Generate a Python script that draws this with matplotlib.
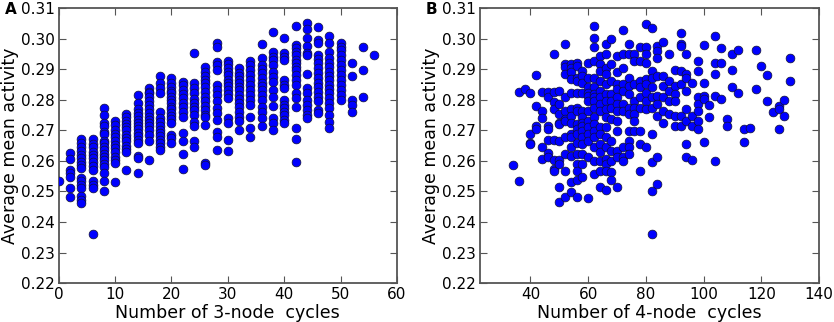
import matplotlib
matplotlib.use('Agg')
import matplotlib.pyplot as plt
import numpy as np

# Panel A: number of 3-node cycles -> average mean activity values in that column
cycles3 = {
    0: [0.2535],
    2: [0.2625, 0.2606, 0.2571, 0.2560, 0.2549, 0.2511, 0.2482],
    4: [0.2671, 0.2658, 0.2645, 0.2634, 0.2620, 0.2609, 0.2598, 0.2587, 0.2576,
        0.2544, 0.2533, 0.2522, 0.2511, 0.2484, 0.2473, 0.2462],
    6: [0.2671, 0.2656, 0.2645, 0.2631, 0.2620, 0.2609, 0.2598, 0.2584, 0.2571,
        0.2533, 0.2522, 0.2511, 0.2362],
    8: [0.2773, 0.2751, 0.2724, 0.2715, 0.2696, 0.2689, 0.2667, 0.2660, 0.2647,
        0.2636, 0.2623, 0.2612, 0.2604, 0.2591, 0.2580, 0.2562, 0.2533, 0.2502],
    10: [0.2732, 0.2718, 0.2702, 0.2689, 0.2678, 0.2664, 0.2653, 0.2642, 0.2628,
         0.2614, 0.2604, 0.2593, 0.2531],
    12: [0.2753, 0.2743, 0.2732, 0.2721, 0.2711, 0.2700, 0.2686, 0.2675, 0.2664,
         0.2650, 0.2639, 0.2628, 0.2571],
    14: [0.2816, 0.2789, 0.2770, 0.2758, 0.2748, 0.2735, 0.2724, 0.2713, 0.2704,
         0.2693, 0.2682, 0.2669, 0.2658, 0.2615, 0.2609, 0.2560],
    16: [0.2838, 0.2827, 0.2822, 0.2811, 0.2795, 0.2784, 0.2770, 0.2757, 0.2745,
         0.2735, 0.2724, 0.2715, 0.2702, 0.2686, 0.2664, 0.2604],
    18: [0.2878, 0.2855, 0.2838, 0.2822, 0.2762, 0.2740, 0.2729, 0.2713, 0.2702,
         0.2693, 0.2682, 0.2669, 0.2658, 0.2647, 0.2636],
    20: [0.2871, 0.2855, 0.2842, 0.2830, 0.2822, 0.2811, 0.2800, 0.2789, 0.2778,
         0.2770, 0.2758, 0.2748, 0.2737, 0.2726, 0.2686, 0.2675, 0.2660],
    22: [0.2860, 0.2849, 0.2833, 0.2819, 0.2805, 0.2791, 0.2778, 0.2762, 0.2745,
         0.2691, 0.2664, 0.2623, 0.2573],
    24: [0.2953, 0.2855, 0.2838, 0.2822, 0.2802, 0.2789, 0.2778, 0.2767, 0.2751,
         0.2729, 0.2715, 0.2664, 0.2647],
    26: [0.2909, 0.2893, 0.2879, 0.2865, 0.2855, 0.2841, 0.2827, 0.2811, 0.2795,
         0.2780, 0.2767, 0.2751, 0.2743, 0.2718, 0.2593, 0.2587],
    28: [0.2985, 0.2975, 0.2925, 0.2914, 0.2898, 0.2849, 0.2833, 0.2816, 0.2795,
         0.2773, 0.2756, 0.2735, 0.2696, 0.2680, 0.2636],
    30: [0.2929, 0.2918, 0.2904, 0.2893, 0.2882, 0.2865, 0.2855, 0.2844, 0.2831,
         0.2819, 0.2805, 0.2740, 0.2724, 0.2669, 0.2634],
    32: [0.2906, 0.2889, 0.2879, 0.2865, 0.2855, 0.2841, 0.2831, 0.2816, 0.2802,
         0.2789, 0.2778, 0.2762, 0.2745, 0.2732, 0.2700],
    34: [0.2928, 0.2915, 0.2898, 0.2882, 0.2865, 0.2849, 0.2833, 0.2816, 0.2800,
         0.2784, 0.2743, 0.2707, 0.2680],
    36: [0.2982, 0.2936, 0.2915, 0.2900, 0.2887, 0.2871, 0.2857, 0.2844, 0.2831,
         0.2816, 0.2800, 0.2778, 0.2762, 0.2740, 0.2713],
    38: [0.3021, 0.2958, 0.2942, 0.2931, 0.2915, 0.2893, 0.2876, 0.2860, 0.2833,
         0.2811, 0.2780, 0.2740, 0.2724, 0.2702],
    40: [0.3004, 0.2953, 0.2942, 0.2931, 0.2865, 0.2849, 0.2838, 0.2800, 0.2784,
         0.2773, 0.2762, 0.2751, 0.2735, 0.2724],
    42: [0.3042, 0.2980, 0.2969, 0.2958, 0.2947, 0.2931, 0.2920, 0.2909, 0.2898,
         0.2882, 0.2865, 0.2849, 0.2822, 0.2805, 0.2778, 0.2707, 0.2671, 0.2598],
    44: [0.3051, 0.3031, 0.3002, 0.2977, 0.2953, 0.2947, 0.2885, 0.2838, 0.2822,
         0.2800, 0.2784, 0.2767, 0.2751, 0.2740],
    46: [0.3040, 0.2996, 0.2985, 0.2947, 0.2933, 0.2920, 0.2904, 0.2887, 0.2871,
         0.2855, 0.2841, 0.2827, 0.2811, 0.2795, 0.2767, 0.2756],
    48: [0.3009, 0.2985, 0.2958, 0.2936, 0.2920, 0.2909, 0.2893, 0.2879, 0.2865,
         0.2849, 0.2835, 0.2822, 0.2805, 0.2789, 0.2773, 0.2751, 0.2729, 0.2707],
    50: [0.2985, 0.2975, 0.2964, 0.2947, 0.2931, 0.2915, 0.2898, 0.2882, 0.2865,
         0.2849, 0.2833, 0.2816, 0.2800],
    52: [0.2922, 0.2879, 0.2800, 0.2784, 0.2762],
    54: [0.2972, 0.2898, 0.2811],
    56: [0.2947],
}

# Panel B: number of 4-node cycles -> average mean activity values in that column
cycles4 = {
    34: [0.2586],
    36: [0.2827, 0.2534],
    38: [0.2836],
    40: [0.2823, 0.2689, 0.2658, 0.2654],
    42: [0.2882, 0.2781, 0.2713, 0.2705],
    44: [0.2827, 0.2765, 0.2741, 0.2646, 0.2607],
    46: [0.2827, 0.2808, 0.2713, 0.2705, 0.2669, 0.2625, 0.2612],
    48: [0.2950, 0.2827, 0.2792, 0.2770, 0.2669, 0.2604, 0.2574, 0.2566],
    50: [0.2830, 0.2786, 0.2754, 0.2726, 0.2721, 0.2666, 0.2602, 0.2591, 0.2515, 0.2464],
    52: [0.2983, 0.2919, 0.2908, 0.2884, 0.2808, 0.2765, 0.2737, 0.2730, 0.2677,
         0.2623, 0.2568, 0.2483],
    54: [0.2919, 0.2906, 0.2890, 0.2868, 0.2824, 0.2770, 0.2748, 0.2726, 0.2688,
         0.2677, 0.2645, 0.2617, 0.2530, 0.2498],
    56: [0.2922, 0.2912, 0.2873, 0.2863, 0.2824, 0.2775, 0.2765, 0.2721, 0.2705,
         0.2688, 0.2658, 0.2623, 0.2591, 0.2568, 0.2536, 0.2483],
    58: [0.2895, 0.2879, 0.2857, 0.2824, 0.2765, 0.2743, 0.2726, 0.2715, 0.2699,
         0.2677, 0.2656, 0.2623, 0.2591, 0.2547],
    60: [0.2922, 0.2873, 0.2841, 0.2824, 0.2813, 0.2797, 0.2765, 0.2732, 0.2710,
         0.2688, 0.2666, 0.2612, 0.2478],
    62: [0.3042, 0.3004, 0.2974, 0.2928, 0.2873, 0.2841, 0.2819, 0.2808, 0.2797,
         0.2775, 0.2743, 0.2721, 0.2699, 0.2677, 0.2645, 0.2601, 0.2558],
    64: [0.2944, 0.2917, 0.2895, 0.2863, 0.2830, 0.2808, 0.2786, 0.2765, 0.2710,
         0.2688, 0.2656, 0.2628, 0.2601, 0.2568, 0.2515],
    66: [0.2983, 0.2950, 0.2906, 0.2884, 0.2852, 0.2819, 0.2797, 0.2770, 0.2743,
         0.2710, 0.2677, 0.2645, 0.2607, 0.2591, 0.2568, 0.2505],
    68: [0.2999, 0.2917, 0.2863, 0.2819, 0.2797, 0.2775, 0.2737, 0.2666, 0.2634,
         0.2601, 0.2563, 0.2536],
    70: [0.2944, 0.2890, 0.2852, 0.2835, 0.2808, 0.2786, 0.2765, 0.2732, 0.2699,
         0.2634, 0.2612, 0.2515],
    72: [0.3029, 0.2950, 0.2906, 0.2852, 0.2830, 0.2786, 0.2765, 0.2645, 0.2612, 0.2601],
    74: [0.2983, 0.2950, 0.2873, 0.2846, 0.2819, 0.2775, 0.2754, 0.2699, 0.2666,
         0.2645, 0.2623],
    76: [0.2950, 0.2928, 0.2852, 0.2797, 0.2775, 0.2754, 0.2732, 0.2699],
    78: [0.2974, 0.2928, 0.2863, 0.2841, 0.2808, 0.2775, 0.2699, 0.2656, 0.2568],
    80: [0.3050, 0.2974, 0.2952, 0.2922, 0.2868, 0.2852, 0.2824, 0.2797, 0.2770, 0.2645],
    82: [0.3037, 0.2895, 0.2873, 0.2841, 0.2808, 0.2775, 0.2688, 0.2596, 0.2502, 0.2361],
    84: [0.2977, 0.2961, 0.2939, 0.2879, 0.2813, 0.2786, 0.2748, 0.2612, 0.2525],
    86: [0.2991, 0.2879, 0.2846, 0.2808, 0.2765, 0.2726],
    88: [0.2950, 0.2863, 0.2830, 0.2797, 0.2754],
    90: [0.2897, 0.2846, 0.2821, 0.2797, 0.2748, 0.2715],
    92: [0.3020, 0.2983, 0.2977, 0.2895, 0.2852, 0.2748, 0.2715],
    94: [0.2950, 0.2884, 0.2873, 0.2830, 0.2770, 0.2732, 0.2656, 0.2614],
    96: [0.2857, 0.2748, 0.2715, 0.2603],
    98: [0.2928, 0.2895, 0.2808, 0.2786, 0.2765, 0.2732, 0.2705],
    100: [0.2980, 0.2857, 0.2813, 0.2803, 0.2663],
    102: [0.2784, 0.2745],
    104: [0.3010, 0.2920, 0.2884, 0.2813, 0.2600],
    106: [0.2971, 0.2920, 0.2803],
    108: [0.2737, 0.2715],
    110: [0.2952, 0.2897, 0.2843],
    112: [0.2964, 0.2824],
    114: [0.2705, 0.2661],
    116: [0.2707],
    118: [0.2964, 0.2835],
    120: [0.2912],
    122: [0.2882, 0.2795],
    124: [0.2761],
    126: [0.2781, 0.2770, 0.2705],
    128: [0.2800, 0.2748],
    130: [0.2939, 0.2863],
}


def flatten(d):
    xs, ys = [], []
    for k, vals in d.items():
        xs += [k] * len(vals)
        ys += vals
    return np.array(xs), np.array(ys)


x3, y3 = flatten(cycles3)
x4, y4 = flatten(cycles4)

fig = plt.figure(figsize=(8.34, 3.22), dpi=100)
axA = fig.add_axes([0.0704, 0.121, 0.4056, 0.853])
axB = fig.add_axes([0.5752, 0.121, 0.4068, 0.853])

yt = np.round(np.arange(0.22, 0.3101, 0.01), 2)

panels = [
    (axA, x3, y3, (0, 60), [0, 10, 20, 30, 40, 50, 60], 'Number of 3-node  cycles', 'A'),
    (axB, x4, y4, (22.4, 140), [40, 60, 80, 100, 120, 140], 'Number of 4-node  cycles', 'B'),
]

for ax, xs, ys, xlim, xticks, xlabel, letter in panels:
    ax.scatter(xs, ys, s=40, c='#0000ff', edgecolors='#111133', linewidths=0.5,
               zorder=3)
    ax.set_xlim(xlim)
    ax.set_ylim(0.22, 0.31)
    ax.set_xticks(xticks)
    ax.set_yticks(yt)
    ax.set_yticklabels(['%.2f' % v for v in yt])
    ax.tick_params(direction='in', top=True, right=True, length=5, width=0.8,
                   labelsize=11, color='#555555', pad=3)
    for sp in ax.spines.values():
        sp.set_color('#555555')
        sp.set_linewidth(1.3)
    ax.set_xlabel(xlabel, fontsize=12.5, labelpad=1)
    ax.set_ylabel('Average mean activity', fontsize=12.5, labelpad=1)
    pos = ax.get_position()
    fig.text(pos.x0 - 0.065, 0.995, letter, fontsize=11, fontweight='bold',
             ha='left', va='top')

fig.savefig('out.png', dpi=100)
